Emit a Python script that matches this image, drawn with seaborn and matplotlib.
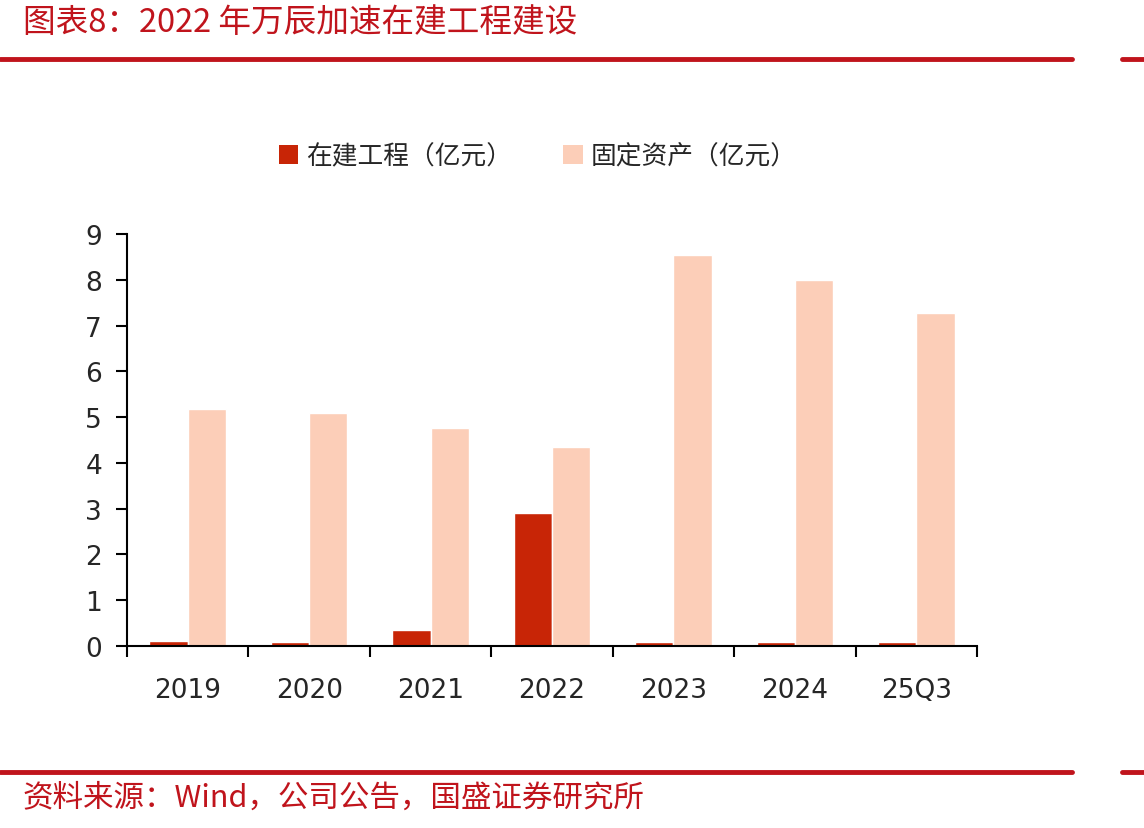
import pandas as pd
import numpy as np
import matplotlib
matplotlib.use("Agg")
import matplotlib.pyplot as plt
import seaborn as sns
from matplotlib.lines import Line2D
from matplotlib.patches import Patch

# data
years = ['2019', '2020', '2021', '2022', '2023', '2024', '25Q3']
cip = [0.12, 0.09, 0.35, 2.90, 0.09, 0.09, 0.09]          # 在建工程（亿元）
fixed_assets = [5.17, 5.09, 4.76, 4.35, 8.54, 7.99, 7.27]  # 固定资产（亿元）
series_names = ['在建工程（亿元）', '固定资产（亿元）']
colors = ['#C82506', '#FCCEB8']

title = '图表8：2022 年万辰加速在建工程建设'
source = '资料来源：Wind，公司公告，国盛证券研究所'

df = pd.DataFrame({'year': years * 2,
                   'value': cip + fixed_assets,
                   'series': [series_names[0]] * len(years) + [series_names[1]] * len(years)})

sns.set_style('white')
plt.rcParams['font.family'] = ['Noto Sans CJK SC', 'DejaVu Sans']

fig = plt.figure(figsize=(11.44, 8.29), dpi=100)
ax = fig.add_axes([0.111, 0.2195, 0.743, 0.497])

sns.barplot(data=df, x='year', y='value', hue='series', palette=colors,
            width=0.63, saturation=1, ax=ax, legend=False)

ax.set_ylim(0, 9)
ax.set_xlim(-0.5, len(years) - 0.5)
ax.set_yticks(range(0, 10))
ax.set_xlabel('')
ax.set_ylabel('')

# ticks between categories on the x axis
ax.set_xticks(np.arange(-0.5, len(years), 1.0))
ax.set_xticklabels([])
ax.set_xticks(range(len(years)), minor=True)
ax.set_xticklabels(years, minor=True, fontfamily='DejaVu Sans', fontsize=19)
ax.tick_params(axis='x', which='major', bottom=True, direction='out', length=8, width=1.5, color='black')
ax.tick_params(axis='x', which='minor', bottom=True, length=0, pad=22)
ax.tick_params(axis='y', left=True, direction='out', length=8, width=1.5, color='black', pad=10)
for lab in ax.get_yticklabels():
    lab.set_fontfamily('DejaVu Sans')
    lab.set_fontsize(19)

for s in ['top', 'right']:
    ax.spines[s].set_visible(False)
for s in ['left', 'bottom']:
    ax.spines[s].set_color('black')
    ax.spines[s].set_linewidth(1.5)

handles = [Patch(facecolor=c, edgecolor='none') for c in colors]
fig.legend(handles, series_names, loc='center', bbox_to_anchor=(0.47, 0.81),
           ncol=2, frameon=False, fontsize=18.5, handlelength=0.75, handleheight=0.75,
           handletextpad=0.3, columnspacing=2.0)

# header / footer decorations
red = '#C0141C'
fig.text(0.02, 0.972, title, color=red, fontsize=23.5, style='italic', va='center', ha='left')
fig.text(0.02, 0.037, source, color=red, fontsize=22, style='italic', va='center', ha='left')
for yy in [1 - 60 / 829, 1 - 773 / 829]:
    fig.add_artist(Line2D([0, 1072 / 1144], [yy, yy], color=red, lw=3.5, transform=fig.transFigure))
    fig.add_artist(Line2D([1122 / 1144, 1], [yy, yy], color=red, lw=3.5, transform=fig.transFigure))

fig.savefig('out.png', dpi=100)
